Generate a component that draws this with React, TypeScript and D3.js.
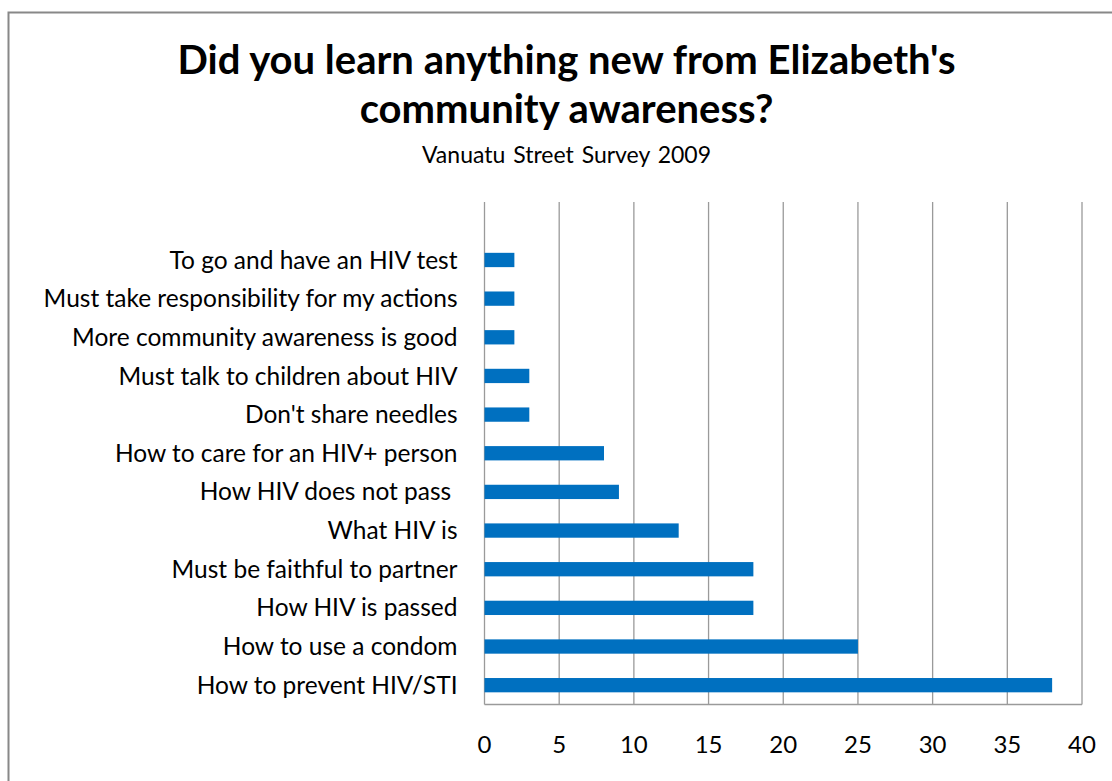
import React from "react";
import * as d3 from "d3";

const categories = [
  "",
  "To go and have an HIV test",
  "Must take responsibility for my actions",
  "More community awareness is good",
  "Must talk to children about HIV",
  "Don't share needles",
  "How to care for an HIV+ person",
  "How HIV does not pass ",
  "What HIV is",
  "Must be faithful to partner",
  "How HIV is passed",
  "How to use a condom",
  "How to prevent HIV/STI",
];
const values = [0, 2, 2, 2, 3, 3, 8, 9, 13, 18, 18, 25, 38];
const xTicks = [0, 5, 10, 15, 20, 25, 30, 35, 40];
const titleLines = ["Did you learn anything new from Elizabeth's", "community awareness?"];
const subtitle = "Vanuatu Street Survey 2009";

const W = 1112;
const H = 781;
const plot = { left: 484.5, right: 1082, top: 202, bottom: 704.5 };
const FONT = "Lato, 'Open Sans', sans-serif";

export default function App() {
  const x = d3.scaleLinear().domain([0, 40]).range([plot.left, plot.right]);
  const y = d3
    .scaleBand<string>()
    .domain(categories.map((c, i) => String(i)))
    .range([plot.top, plot.bottom])
    .paddingInner(0.63)
    .paddingOuter(0.315);
  const cx = 566.5;
  return (
    <svg
      width={W}
      height={H}
      style={{ position: "absolute", left: 0, top: 0, background: "#fff" }}
      fontFamily={FONT}
    >
      <rect x={0} y={0} width={W} height={H} fill="#fff" />
      <rect x={8.5} y={12.5} width={1140} height={820} fill="#fff" stroke="#888" strokeWidth={2} />
      {titleLines.map((t, i) => (
        <text key={i} x={cx} y={74 + i * 49} textAnchor="middle" fontSize={40} fontWeight={700} fill="#000">
          {t}
        </text>
      ))}
      <text x={cx} y={163} textAnchor="middle" fontSize={23} fill="#000" wordSpacing={2}>
        {subtitle}
      </text>
      {xTicks.map((t) => (
        <line key={t} x1={x(t)} x2={x(t)} y1={plot.top} y2={plot.bottom} stroke="#9a9a9a" strokeWidth={1.3} />
      ))}
      <line x1={plot.left} x2={plot.right} y1={plot.bottom} y2={plot.bottom} stroke="#9a9a9a" strokeWidth={1.3} />
      {categories.map((c, i) => {
        const yy = y(String(i))!;
        return (
          <g key={i}>
            {values[i] > 0 && (
              <rect x={x(0)} y={yy} width={x(values[i]) - x(0)} height={y.bandwidth()} fill="#0070C0" />
            )}
            <text
              x={plot.left - 27}
              y={yy + y.bandwidth() / 2}
              dy="0.35em"
              textAnchor="end"
              fontSize={24.5}
              fill="#000"
              style={{ whiteSpace: "pre" }}
            >
              {c}
            </text>
          </g>
        );
      })}
      {xTicks.map((t) => (
        <text key={t} x={x(t)} y={753} textAnchor="middle" fontSize={24} fill="#000">
          {t}
        </text>
      ))}
    </svg>
  );
}
